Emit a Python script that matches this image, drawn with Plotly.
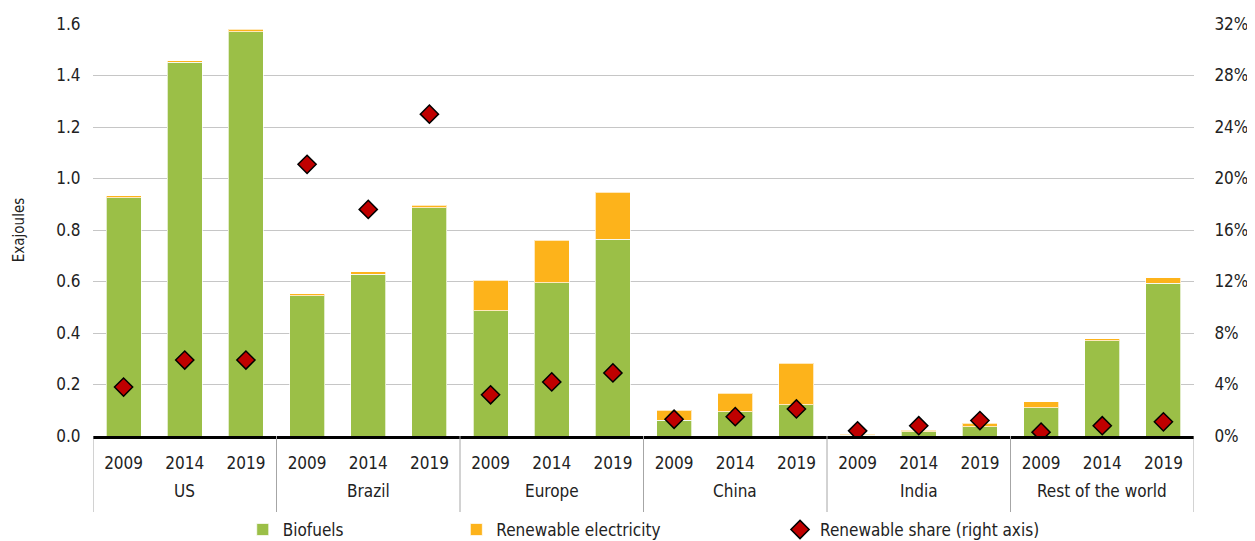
import plotly.graph_objects as go

regions = ["US", "Brazil", "Europe", "China", "India", "Rest of the world"]
years = ["2009", "2014", "2019"]

biofuels = [0.926, 1.451, 1.569,
            0.544, 0.629, 0.887,
            0.486, 0.596, 0.765,
            0.062, 0.095, 0.121,
            0.002, 0.016, 0.035,
            0.109, 0.370, 0.594]
renewable_elec = [0.007, 0.006, 0.010,
                  0.009, 0.009, 0.009,
                  0.118, 0.165, 0.182,
                  0.038, 0.071, 0.161,
                  0.004, 0.007, 0.014,
                  0.025, 0.008, 0.021]
renewable_share = [0.038, 0.059, 0.059,
                   0.211, 0.176, 0.250,
                   0.032, 0.042, 0.049,
                   0.013, 0.015, 0.021,
                   0.004, 0.008, 0.012,
                   0.003, 0.008, 0.011]

left_ticks = [0, 0.2, 0.4, 0.6, 0.8, 1.0, 1.2, 1.4, 1.6]
left_ticktext = ["0.0", "0.2", "0.4", "0.6", "0.8", "1.0", "1.2", "1.4", "1.6"]
right_ticks = [0, 0.04, 0.08, 0.12, 0.16, 0.20, 0.24, 0.28, 0.32]

categories = [f"{r} {y}" for r in regions for y in years]
year_labels = [y for _ in regions for y in years]

FONT = "Liberation Sans Narrow, DejaVu Sans Condensed, Arial Narrow, sans-serif"
GREEN = "#9BBF47"
ORANGE = "#FDB31B"
RED = "#C00000"
TXT = "#222222"

fig = go.Figure()
fig.add_trace(go.Bar(x=categories, y=biofuels, name="Biofuels", marker_color=GREEN,
                     marker_line=dict(color="rgba(255,255,255,0.7)", width=1),
                     legend="legend", showlegend=True))
fig.add_trace(go.Bar(x=categories, y=renewable_elec, name="Renewable electricity",
                     marker_color=ORANGE,
                     marker_line=dict(color="rgba(255,255,255,0.7)", width=1),
                     legend="legend2", showlegend=True))
fig.add_trace(go.Scatter(x=categories, y=renewable_share,
                         name="Renewable share (right axis)",
                         mode="markers", yaxis="y2",
                         marker=dict(symbol="diamond", size=14, color=RED,
                                     line=dict(color="black", width=1.5)),
                         legend="legend3", showlegend=True))

# group labels and dividers
n = len(years)
for i, r in enumerate(regions):
    fig.add_annotation(x=categories[i * n + 1], y=-0.1335, xref="x", yref="paper",
                       text=r, showarrow=False, yanchor="middle",
                       font=dict(family=FONT, size=17, color=TXT))
for i in range(len(regions) + 1):
    fig.add_shape(type="line", xref="x", yref="paper",
                  x0=i * n - 0.5, x1=i * n - 0.5, y0=0, y1=-0.1845,
                  line=dict(color="#A6A6A6", width=1))

legend_common = dict(yanchor="middle", xanchor="left", orientation="h", y=-0.228,
                     font=dict(size=17, family=FONT, color=TXT),
                     bgcolor="rgba(0,0,0,0)", visible=True)

fig.update_layout(
    width=1247, height=533,
    margin=dict(l=85, r=61, t=16, b=105, autoexpand=False),
    showlegend=True,
    barmode="stack", bargap=0.43,
    plot_bgcolor="white", paper_bgcolor="white",
    font=dict(family=FONT, size=17, color=TXT),
    xaxis=dict(type="category", showline=True, linecolor="black", linewidth=3,
               tickvals=categories, ticktext=year_labels,
               ticks="outside", ticklen=10, tickcolor="rgba(0,0,0,0)",
               tickfont=dict(size=17, color=TXT), showgrid=False,
               automargin=False, range=[-0.5, len(categories) - 0.5]),
    yaxis=dict(range=[0, 1.6], tickvals=left_ticks, ticktext=left_ticktext,
               showgrid=True, gridcolor="#C6C6C6", gridwidth=1.3, zeroline=False,
               ticks="outside", ticklen=8, tickcolor="rgba(0,0,0,0)",
               title=dict(text="Exajoules", font=dict(size=15), standoff=28),
               tickfont=dict(size=17), automargin=False),
    yaxis2=dict(range=[0, 0.32], tickvals=right_ticks, tickformat=".0%",
                overlaying="y", side="right", showgrid=False, zeroline=False,
                ticks="outside", ticklen=16, tickcolor="rgba(0,0,0,0)",
                tickfont=dict(size=17), automargin=False),
    legend=dict(x=0.136, **legend_common),
    legend2=dict(x=0.330, **legend_common),
    legend3=dict(x=0.624, **legend_common),
)

fig.write_html("out.html")
